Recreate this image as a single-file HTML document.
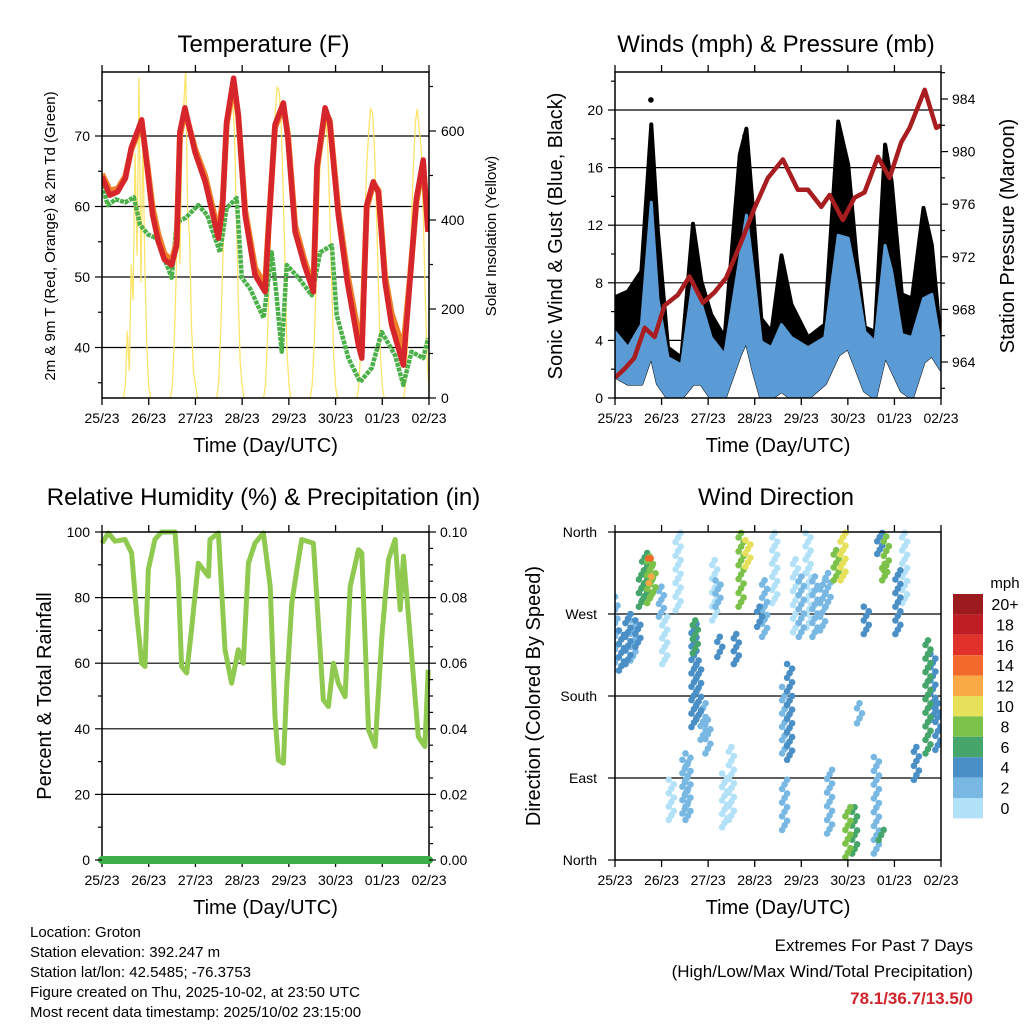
<!DOCTYPE html>
<html><head><meta charset="utf-8"><title>Weather station charts</title>
<style>
html,body{margin:0;padding:0;background:#fff;}
svg{display:block;font-family:"Liberation Sans",Arial,sans-serif;}
</style></head>
<body>
<svg id="root" width="1024" height="1024" viewBox="0 0 1024 1024" xmlns="http://www.w3.org/2000/svg">
<rect x="0" y="0" width="1024" height="1024" fill="#fff"/>
<g id="g-temp"></g>
<g id="g-wind"></g>
<g id="g-rh"></g>
<g id="g-dir"></g>
<g font-size="15" fill="#000">
<text x="30" y="937">Location: Groton</text>
<text x="30" y="957">Station elevation: 392.247 m</text>
<text x="30" y="977">Station lat/lon: 42.5485; -76.3753</text>
<text x="30" y="997">Figure created on Thu, 2025-10-02, at 23:50 UTC</text>
<text x="30" y="1017">Most recent data timestamp: 2025/10/02 23:15:00</text>
</g>
<g text-anchor="end">
<text x="973" y="951" font-size="17">Extremes For Past 7 Days</text>
<text x="973" y="977" font-size="17">(High/Low/Max Wind/Total Precipitation)</text>
<text x="973" y="1004" font-size="17" font-weight="bold" fill="#d0232a">78.1/36.7/13.5/0</text>
</g>
</svg>
<script>
// ---------- shared ----------
var dayLabels = ["25/23","26/23","27/23","28/23","29/23","30/23","01/23","02/23"];
// ---------- Temperature data ----------
var tempT = [0,4,8,12,15,20.4,23,26,29,32,35.8,38.4,40,42.6,47.8,53,59.8,62,64,67.6,70,73.5,78.6,83.8,85.5,88.9,93.2,95.5,99.2,104,108.6,110.5,114.6,117,121.4,126,131.7,133.5,136,139.4,142,145.4,148.8,154.8,158.2,161.6,165,167.5];
var tempRed = [64.2,61.6,62.1,64,68.3,72.3,66,58.8,55,52.5,51.7,54.5,70.6,74,67.7,63.5,55.5,60.2,72,78.2,73,58.8,50.3,47.9,56.4,71.6,74.7,69.7,56.4,51.7,47.9,65.9,74,72,58.8,49.3,40.4,38.5,60.2,63.5,62,49.3,43.2,37.5,49.3,61.2,66.6,56.4];
var tempOrange = [64.6,62.3,62.5,64.3,68,71.8,66.5,59.8,56,53.3,52.3,55,70,73.6,68.2,64.3,56.3,60.8,71.5,77.5,72.8,59.5,51.3,48.8,56.8,71.2,74.2,70.2,57.3,52.4,48.6,65.4,73.5,72.2,59.5,50.5,42,40.8,59.8,63.2,62.3,50.2,44.8,39.8,49.8,60.8,66,56.8];
var dewT = [0,3,7,12,16.4,19.5,23.8,28,35.8,38.4,43,49.5,54,60.6,64,69.2,71.8,76,83,87.2,89.5,92.3,94.9,100.9,107.8,112.1,118.1,120.6,126.6,132.6,138.6,143.7,150.6,154.8,159,165,167.5];
var dewVals = [63,60.2,61,60.6,61.3,57.4,56,55.5,49.9,57.8,58.4,60.2,58.8,53.5,59.8,61.2,49.9,48.4,44.2,53.5,47.9,39.4,51.7,49.9,47.4,53.5,54.5,44.6,38.5,35.1,37.1,42.2,38.9,34.7,39.4,38.5,41.3];
var solarHourly = [
0,0,0,0,0,0,0,0,0,0,0,0, 30,150,60,300,220,550,320,720,260,580,300,120,
25,0,0,0,0,0,0,0,0,0,0,0, 20,110,260,420,300,560,660,740,420,360,160,60,
30,0,0,0,0,0,0,0,0,0,0,0, 40,150,300,440,560,640,690,680,600,420,220,80,
30,0,0,0,0,0,0,0,0,0,0,0, 30,130,280,420,540,640,700,690,620,480,300,110,
30,0,0,0,0,0,0,0,0,0,0,0, 30,120,260,400,520,600,650,640,560,420,260,100,
25,0,0,0,0,0,0,0,0,0,0,0, 30,120,260,400,520,600,650,640,560,420,260,100,
25,0,0,0,0,0,0,0,0,0,0,0, 30,120,250,400,520,620,650,600,560,420,240,90,
20];
var tempTicks = [40,50,60,70];
var solarTicks = [0,200,400,600];
// ---------- Wind data ----------
var windT = [0,6.7,13.6,18.7,22.1,27.3,34.2,40.2,44.5,49.6,56.5,64.3,67.7,71.2,75.4,80.6,85.8,90.9,99.5,108.1,115,120.2,124.5,128.8,134,139.2,142.6,147.8,153,159,163.3,168];
var windHi = [4.6,3.5,5.1,13.6,6.9,2.8,2.3,8.1,6.5,4.2,3.0,9.7,12.7,8.8,3.9,3.5,5.1,4.2,3.5,4.2,11.3,11.1,8.1,4.6,3.9,10.6,8.8,4.4,4.2,6.9,7.2,3.5];
var windLo = [1.5,1,1,3,1,0,0,1,1,0,0,3,4,2,0,0,0.5,0,0,1,3,3.5,2,0.5,0,3,2,0.5,0,2.5,3,2];
var gustHi = [7,7.4,8.8,19,11.6,3.5,2.8,12.1,8.1,5.8,4.2,16.9,18.7,12.9,5.5,4.6,9.9,6.5,4.2,5.1,19.2,16.2,9.7,4.9,4.6,17.6,15,7.2,6.9,13.2,10.6,3.7];
var gustMaxT = [18.5, 67];
var gustMaxV = [20.7, 18.2];
var presT = [0,5,9.9,15.3,20.4,25.5,32.4,38.4,45.3,51.3,57.3,65,71.9,78.8,86.5,94.2,99.4,106.3,110.6,117.4,123.5,128.6,135.5,141.5,147.5,151.8,159.6,165.6,168];
var presV = [962.8,963.5,964.3,966.6,965.9,968.3,969.1,970.5,968.5,969.3,970.4,973.1,975.7,978,979.4,977.1,977.1,975.8,976.7,974.8,976.5,976.9,979.6,978,980.7,981.8,984.7,981.8,982];
var windTicks = [0,4,8,12,16,20];
var presTicks = [964,968,972,976,980,984];
// ---------- RH data ----------
var rhT = [0,3.3,6.7,11.8,15.2,17.8,20.4,22.1,23.8,27.2,30.6,37.5,39.2,40.9,43.5,46,49.5,54.7,55.5,59.8,63.2,66.6,70,72.6,75.2,78.6,82.9,86.4,88.9,90.6,93.2,94.9,97.5,100.1,102.6,108.6,111.1,113.7,116.3,118.9,121.4,124.9,127.5,131.8,133.5,136.9,140.3,143.8,147.2,150.6,153.2,154.9,158.3,162.5,165.9,167.6];
var rhV = [96.6,99.7,97.2,97.7,93.6,75.3,60,59,88.5,97.7,100,100,85.5,59,57,70.2,90.5,86.5,97.7,99.7,64.1,53.9,64.1,60,90.5,96.6,99.7,83.4,43.7,30.5,29.5,52.9,78.3,88.5,97.7,96.6,73.2,48.8,46.8,60,53.9,49.8,83.4,94.6,93.6,39.7,34.6,68.2,91.6,97.7,76.3,92.6,68.2,37.6,34.6,58];
var precipT = [0,168];
var precipV = [0,0];
var rhTicks = [0,20,40,60,80,100];
var precipTicks = ["0.00","0.02","0.04","0.06","0.08","0.10"];
// ---------- Wind direction data (observation bands: time, dir from, dir to, speed) ----------
var dirT =  [0,3.3,6.7,9.3,11.8,13.6,15.3,17.9,19.6,18.7,18.4,23.9,25.6,32.5,40.7,41.4,43.1,45.4,47.9,37.6,29,36,51.4,53.1,54,60,56.5,65,68.5,62.5,77.1,74.5,82.3,87.4,90,87.4,96,103,107,99.5,110.6,109.8,117.5,114,120,123.5,126,129.5,134.7,137.2,136.4,139.8,139,145.8,149.3,155.3,161.3,166.4,163.8,93,100];
var dirD0 = [212,208,215,219,234,278,285,282,289,304,331,267,215,274,146,227,154,132,117,44,44,51,263,278,223,44,36,278,322,215,245,256,282,33,110,117,245,245,252,315,29,278,307,307,3,7,150,248,7,22,336,318,307,248,282,88,117,121,154,250,255];
var dirD1 = [289,252,270,263,263,318,337,333,325,311,331,300,267,359,259,263,219,172,154,117,88,110,329,307,245,124,95,359,351,248,307,278,359,88,215,190,311,311,307,359,99,315,359,340,58,58,172,278,113,33,359,355,325,318,359,124,241,172,226,330,320];
var dirS =  [3,4,4,2,4,6,7,9,8,12,15,2,1,0,5,6,4,3,2,2,1,2,1,3,4,1,0,8,10,4,2,4,1,2,4,3,2,2,2,0,2,3,10,8,8,6,2,4,3,7,5,9,8,4,0,4,6,4,4,1,1];
var speedBins = ["0","2","4","6","8","10","12","14","16","18","20+"];
var binColors = ["#b3e1f7","#79b8e3","#4a8fc6","#45a56b","#7cc24a","#e6e05a","#f9aa45","#f26a2b","#e0322a","#bf1e24","#9b1b1e"];
var dirTicks = ["North","East","South","West","North"];
var dirTickVals = [0,90,180,270,360];
</script>
<script>
var NS = "http://www.w3.org/2000/svg";
function mk(parent, tag, attrs, name, inter) {
  var el = document.createElementNS(NS, tag);
  for (var k in attrs) el.setAttribute(k, attrs[k]);
  
  
  parent.appendChild(el);
  return el;
}
function txt(parent, x, y, s, size, anchor, name, extra) {
  var el = document.createElementNS(NS, 'text');
  el.setAttribute('x', x); el.setAttribute('y', y);
  el.setAttribute('font-size', size);
  el.setAttribute('text-anchor', anchor || 'middle');
  if (extra) for (var k in extra) el.setAttribute(k, extra[k]);
  el.textContent = s;
  
  
  parent.appendChild(el);
  return el;
}
function linePath(ts, vs, sx, sy) {
  var d = '';
  for (var i = 0; i < ts.length; i++) d += (i ? 'L' : 'M') + sx(ts[i]).toFixed(1) + ',' + sy(vs[i]).toFixed(1);
  return d;
}
function bandPath(ts, hi, lo, sx, sy) {
  var d = '';
  for (var i = 0; i < ts.length; i++) d += (i ? 'L' : 'M') + sx(ts[i]).toFixed(1) + ',' + sy(hi[i]).toFixed(1);
  for (var j = ts.length - 1; j >= 0; j--) d += 'L' + sx(ts[j]).toFixed(1) + ',' + sy(lo[j]).toFixed(1);
  return d + 'Z';
}
function frame(g, L, R, T, B, title, titleY) {
  txt(g, (L + R) / 2 - 2, titleY, title, 24, 'middle', 'chart-title');
  var sx = function (t) { return L + t / 168 * (R - L); };
  for (var i = 0; i < dayLabels.length; i++) {
    var x = sx(i * 24);
    mk(g, 'line', {x1: x, x2: x, y1: B, y2: B + 7, stroke: '#000', 'stroke-width': 1.3}, 'x-tick', false);
    mk(g, 'line', {x1: x, x2: x, y1: T, y2: T - 7, stroke: '#000', 'stroke-width': 1.3}, 'x-tick-top', false);
    txt(g, x, B + 25, dayLabels[i], 14, 'middle', 'x-tick-label');
  }
  txt(g, (L + R) / 2, B + 54, 'Time (Day/UTC)', 20, 'middle', 'x-axis-title');
  return sx;
}
function box(g, L, R, T, B) {
  mk(g, 'rect', {x: L, y: T, width: R - L, height: B - T, fill: 'none', stroke: '#000', 'stroke-width': 1.5}, 'plot-frame', false);
}
function grid(g, L, R, y) {
  mk(g, 'line', {x1: L, x2: R, y1: y, y2: y, stroke: '#000', 'stroke-width': 1.2}, 'grid-line', false);
}
function ytick(g, x, y, dir, len) {
  mk(g, 'line', {x1: x, x2: x + dir * len, y1: y, y2: y, stroke: '#000', 'stroke-width': 1.2}, 'y-tick', false);
}

// ===== Temperature panel =====
(function () {
  var g = document.getElementById('g-temp');
  var L = 102, R = 429, T = 72, B = 398;
  var sx = frame(g, L, R, T, B, 'Temperature (F)', 52);
  var sy = function (v) { return 136 + (70 - v) * 7.05; };
  var ss = function (v) { return 398 - v / 200 * 89; };
  var clip = mk(g, 'clipPath', {id: 'clipT'}, 'temp-clip', false);
  mk(clip, 'rect', {x: L, y: T, width: R - L, height: B - T}, 'temp-clip-rect', false);
  var pg = mk(g, 'g', {'clip-path': 'url(#clipT)'}, 'temp-plot-area', false);
  for (var i = 0; i < tempTicks.length; i++) grid(pg, L, R, sy(tempTicks[i]));
  var st = [];
  for (var h = 0; h < solarHourly.length; h++) st.push(h);
  mk(pg, 'path', {d: linePath(st, solarHourly, sx, ss), fill: 'none', stroke: '#fde46a', 'stroke-width': 1.3}, 'solar-line', false);
  mk(pg, 'path', {d: linePath(dewT, dewVals, sx, sy), fill: 'none', stroke: '#4bb04a', 'stroke-width': 4.5, 'stroke-linejoin': 'round', 'stroke-dasharray': '4 1'}, 'dewpoint-line', false);
  mk(pg, 'path', {d: linePath(tempT, tempOrange, sx, sy), fill: 'none', stroke: '#f07f2c', 'stroke-width': 6, 'stroke-linejoin': 'round'}, 'temp-9m-line', false);
  mk(pg, 'path', {d: linePath(tempT, tempRed, sx, sy), fill: 'none', stroke: '#d7262b', 'stroke-width': 5.5, 'stroke-linejoin': 'round'}, 'temp-2m-line', false);
  box(g, L, R, T, B);
  for (var v = 35; v <= 75; v += 5) ytick(g, L, sy(v), -1, v % 10 === 0 ? 7 : 4);
  for (i = 0; i < tempTicks.length; i++) txt(g, L - 12, sy(tempTicks[i]) + 5, tempTicks[i], 14, 'end', 'y-tick-label');
  for (v = 0; v <= 700; v += 100) ytick(g, R, ss(v), 1, v % 200 === 0 ? 7 : 4);
  for (i = 0; i < solarTicks.length; i++) txt(g, R + 12, ss(solarTicks[i]) + 5, solarTicks[i], 14, 'start', 'y2-tick-label');
  txt(g, 0, 0, '2m & 9m T (Red, Orange) & 2m Td (Green)', 15, 'middle', 'y-axis-title', {transform: 'translate(55,236) rotate(-90)'});
  txt(g, 0, 0, 'Solar Insolation (Yellow)', 15, 'middle', 'y2-axis-title', {transform: 'translate(496,236) rotate(-90)'});
})();

// ===== Winds panel =====
(function () {
  var g = document.getElementById('g-wind');
  var L = 615, R = 941, T = 72, B = 398;
  var sx = frame(g, L, R, T, B, 'Winds (mph) & Pressure (mb)', 52);
  var sy = function (v) { return 398 - v * 14.4; };
  var sp = function (p) { return 362 - (p - 964) * 13.15; };
  var clip = mk(g, 'clipPath', {id: 'clipW'}, 'wind-clip', false);
  mk(clip, 'rect', {x: L, y: T, width: R - L, height: B - T}, 'wind-clip-rect', false);
  var pg = mk(g, 'g', {'clip-path': 'url(#clipW)'}, 'wind-plot-area', false);
  for (var i = 1; i < windTicks.length; i++) grid(pg, L, R, sy(windTicks[i]));
  mk(pg, 'path', {d: bandPath(windT, gustHi, windLo, sx, sy), fill: '#000', stroke: '#000', 'stroke-width': 4, 'stroke-linejoin': 'round'}, 'gust-band', false);
  for (i = 0; i < gustMaxT.length; i++) mk(pg, 'circle', {cx: sx(gustMaxT[i]), cy: sy(gustMaxV[i]), r: 2.8, fill: '#000'}, 'gust-max-point', false);
  mk(pg, 'path', {d: bandPath(windT, windHi, windLo, sx, sy), fill: '#5b9bd5', stroke: '#5b9bd5', 'stroke-width': 3, 'stroke-linejoin': 'round'}, 'wind-band', false);
  mk(pg, 'path', {d: linePath(presT, presV, sx, sp), fill: 'none', stroke: '#a81d1f', 'stroke-width': 4.5, 'stroke-linejoin': 'round'}, 'pressure-line', false);
  box(g, L, R, T, B);
  for (var v = 0; v <= 22; v += 2) ytick(g, L, sy(v), -1, v % 4 === 0 ? 7 : 4);
  for (i = 0; i < windTicks.length; i++) txt(g, L - 12, sy(windTicks[i]) + 5, windTicks[i], 14, 'end', 'y-tick-label');
  for (v = 962; v <= 986; v += 2) ytick(g, R, sp(v), 1, v % 4 === 0 ? 7 : 4);
  for (i = 0; i < presTicks.length; i++) txt(g, R + 11, sp(presTicks[i]) + 5, presTicks[i], 14, 'start', 'y2-tick-label');
  txt(g, 0, 0, 'Sonic Wind & Gust (Blue, Black)', 20, 'middle', 'y-axis-title', {transform: 'translate(562,236) rotate(-90)'});
  txt(g, 0, 0, 'Station Pressure (Maroon)', 20, 'middle', 'y2-axis-title', {transform: 'translate(1014,236) rotate(-90)'});
})();

// ===== RH panel =====
(function () {
  var g = document.getElementById('g-rh');
  var L = 102, R = 429, T = 532, B = 860;
  var sx = frame(g, L, R, T, B, 'Relative Humidity (%) & Precipitation (in)', 505);
  var sy = function (v) { return 860 - v * 3.28; };
  var sp = function (v) { return 860 - v * 3280; };
  for (var i = 1; i < rhTicks.length - 1; i++) grid(g, L, R, sy(rhTicks[i]));
  mk(g, 'path', {d: linePath(rhT, rhV, sx, sy), fill: 'none', stroke: '#8fc94f', 'stroke-width': 5, 'stroke-linejoin': 'round'}, 'rh-line', false);
  box(g, L, R, T, B);
  mk(g, 'path', {d: linePath(precipT, precipV, sx, sp), fill: 'none', stroke: '#3eae49', 'stroke-width': 8, 'stroke-linecap': 'round'}, 'precip-line', false);
  for (var v = 0; v <= 100; v += 10) ytick(g, L, sy(v), -1, v % 20 === 0 ? 7 : 4);
  for (i = 0; i < rhTicks.length; i++) txt(g, L - 12, sy(rhTicks[i]) + 5, rhTicks[i], 14, 'end', 'y-tick-label');
  for (v = 0; v <= 100; v += 5) ytick(g, R, sy(v), 1, v % 20 === 0 ? 7 : 4);
  for (i = 0; i < precipTicks.length; i++) txt(g, R + 11, sy(rhTicks[i]) + 5, precipTicks[i], 14, 'start', 'y2-tick-label');
  txt(g, 0, 0, 'Percent & Total Rainfall', 20, 'middle', 'y-axis-title', {transform: 'translate(51,696) rotate(-90)'});
})();

// ===== Wind direction panel =====
(function () {
  var g = document.getElementById('g-dir');
  var L = 615, R = 941, T = 532, B = 860;
  var sx = frame(g, L, R, T, B, 'Wind Direction', 505);
  var sy = function (d) { return 860 - d / 360 * 328; };
  for (var i = 1; i < dirTickVals.length - 1; i++) grid(g, L, R, sy(dirTickVals[i]));
  var clip = mk(g, 'clipPath', {id: 'clipD'}, 'dir-clip', false);
  mk(clip, 'rect', {x: L, y: T - 4, width: R - L, height: B - T + 8}, 'dir-clip-rect', false);
  var pg = mk(g, 'g', {'clip-path': 'url(#clipD)'}, 'dir-plot-area', false);
  var order = [];
  for (i = 0; i < dirT.length; i++) order.push(i);
  order.sort(function (a, b) { return dirS[a] - dirS[b]; });
  for (var k = 0; k < order.length; k++) {
    var j = order[k];
    var bin = Math.min(10, Math.floor(dirS[j] / 2));
    var y0 = sy(dirD0[j]), y1 = sy(dirD1[j]);
    var n = Math.max(1, Math.round(Math.abs(y0 - y1) / 4.5));
    for (var m = 0; m <= n; m++) {
      var yy = y0 + (y1 - y0) * m / n;
      var dot = document.createElementNS(NS, 'circle');
      dot.setAttribute('cx', (sx(dirT[j]) + ((m % 3) - 1) * 2.5).toFixed(1));
      dot.setAttribute('cy', yy.toFixed(1));
      dot.setAttribute('r', 3.3);
      dot.setAttribute('fill', binColors[bin]);
      
      
      pg.appendChild(dot);
    }
  }
  box(g, L, R, T, B);
  for (i = 0; i < dirTickVals.length; i++) {
    ytick(g, L, sy(dirTickVals[i]), -1, 7);
    txt(g, L - 18, sy(dirTickVals[i]) + 5, dirTicks[i], 14, 'end', 'y-tick-label');
  }
  txt(g, 0, 0, 'Direction (Colored By Speed)', 20, 'middle', 'y-axis-title', {transform: 'translate(540,696) rotate(-90)'});
  var cb = mk(g, 'g', {}, 'speed-colorbar', false);
  txt(cb, 1005, 588, 'mph', 15, 'middle', 'colorbar-title');
  var top = 594, h = 20.4;
  for (i = 0; i < speedBins.length; i++) {
    var idx = speedBins.length - 1 - i;
    mk(cb, 'rect', {x: 953, y: top + i * h, width: 30, height: h, fill: binColors[idx]}, 'colorbar-bin', false);
    txt(cb, 1005, top + i * h + 16, speedBins[idx], 16, 'middle', 'colorbar-label');
  }
})();
</script>
</body></html>
